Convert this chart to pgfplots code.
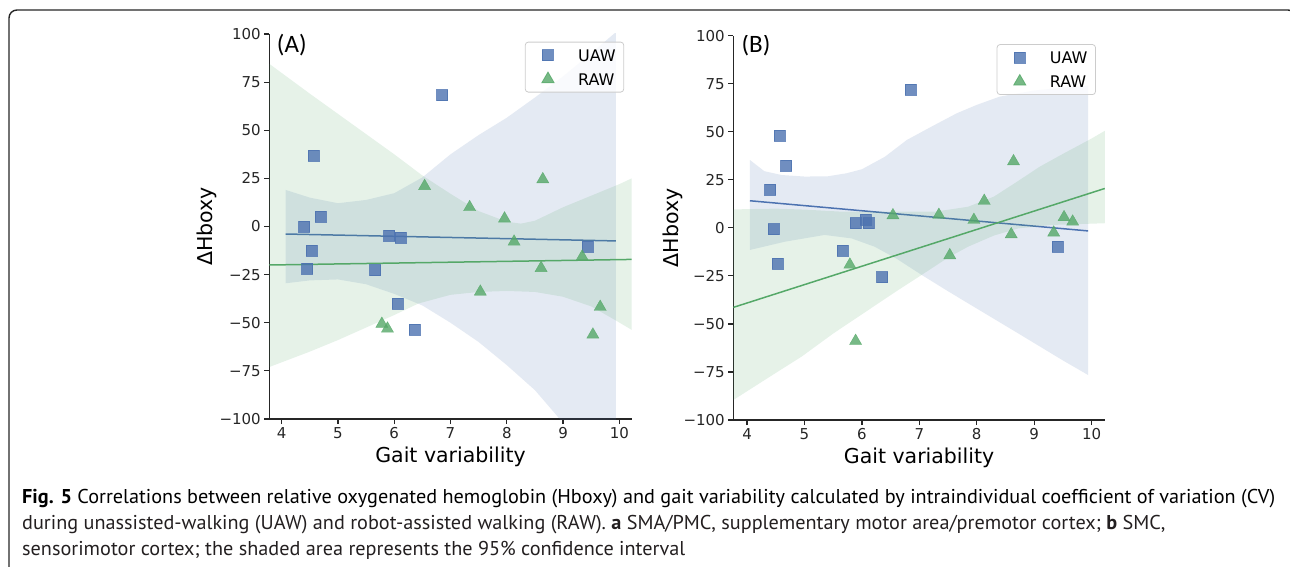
\documentclass[border=0pt]{standalone}
\usepackage{graphicx}
\usepackage{pgfplots}
\pgfplotsset{compat=1.18}
\usepackage{fontspec}
\setmainfont{DejaVu Sans}
\newfontfamily\capfont{PT Sans}
\newfontfamily\panelfont{Carlito}

\definecolor{uaw}{HTML}{4C72B0}
\definecolor{raw}{HTML}{55A868}
\definecolor{ink}{HTML}{262626}
\definecolor{capink}{HTML}{231F20}

\newsavebox\capbox
\newlength\caplen

\tikzset{panel/.style={font=\panelfont\fontsize{25}{29}\selectfont}}

\pgfplotsset{
  gaitax/.style={
    scale only axis, anchor=north west,
    ymin=-100, ymax=100,
    axis x line*=bottom, axis y line*=left,
    axis line style={ink, line width=1.2pt},
    tick align=outside, major tick length=5pt,
    every tick/.style={ink, line width=1.2pt},
    xtick={4,5,...,10},
    ytick={-100,-75,...,100},
    yticklabels={−100,−75,−50,−25,0,25,50,75,100},
    tick label style={font=\fontsize{15}{18}\selectfont, text=ink},
    /pgf/number format/assume math mode=true,
    label style={font=\fontsize{20.5}{24}\selectfont, text=black},
    xlabel={Gait variability},
    ylabel={ΔHboxy},
    legend style={anchor=north east, draw=black!20, line width=0.8pt,
      rounded corners=3pt, fill=white, fill opacity=0.8, text opacity=1,
      font=\fontsize{16}{19}\selectfont, inner xsep=5pt, inner ysep=1pt,
      nodes={inner xsep=3pt, inner ysep=6pt, text height=12pt, text depth=0pt}},
    legend cell align=left,
  },
  band/.style={draw=none, fill=#1, fill opacity=0.15, forget plot},
  fit/.style={#1, line width=1.5pt, forget plot},
  pts/.style={only marks, opacity=0.8,
    legend image code/.code={\path (0pt,0pt) (44pt,0pt);
      \draw[##1] plot coordinates {(17.3pt,0pt)};}},
}

\begin{document}
\sbox\capbox{\capfont\fontsize{20}{26}\selectfont\textbf{Fig. 5} Correlations between relative oxygenated hemoglobin (Hboxy) and gait variability calculated by intraindividual coefficient of variation (CV)}%
\setlength\caplen{\wd\capbox}%
\pgfmathsetmacro\capsx{1253/\caplen}%
\begin{tikzpicture}
\useasboundingbox (0,0) rectangle (1290pt,-567pt);
\draw[line width=1.4pt, black!85, rounded corners=8pt]
  (9pt,-580pt) -- (9pt,-10pt) -- (1296pt,-10pt) -- (1296pt,-580pt);

% (A) SMA/PMC
\begin{axis}[gaitax,
  at={(269.3pt,-34pt)}, width=362.4pt, height=385pt,
  xmin=3.78, xmax=10.22,
  xlabel style={at={(axis description cs:0.5,-0.099)}, anchor=center},
  ylabel style={at={(axis description cs:-0.172,0.5)}, anchor=center},
  legend style={at={(0.979,0.980)}},
]
\addplot[pts, mark=square*, mark size=5.5pt, uaw] coordinates {
  (4.40,0.0) (4.57,36.8) (4.69,5.1) (4.53,-12.6) (4.45,-21.9) (5.66,-22.6)
  (5.91,-4.8) (6.11,-5.6) (6.06,-40.1) (6.36,-53.4) (6.85,68.3) (9.43,-10.5)};
\addlegendentry{UAW}
\addplot[fit=uaw] coordinates {(4.07,-3.9) (9.94,-7.5)};
\addplot[band=uaw] coordinates {
  (4.07,19.0) (4.5,15.0) (5.0,12.1) (5.5,13.8) (6.0,17.3) (6.5,25.5)
  (7.0,37.5) (7.5,47.5) (8.0,56.5) (8.5,67) (9.0,78) (9.5,90) (9.94,101)
  (9.94,-125) (9.5,-113) (9.0,-102) (8.5,-85) (8.0,-72) (7.5,-60) (7.0,-50)
  (6.5,-41) (6.0,-35) (5.5,-30) (5.0,-27.5) (4.5,-28) (4.07,-29.5)} -- cycle;
\addplot[pts, mark=triangle*, mark size=7pt, raw] coordinates {
  (6.54,21.0) (7.34,10.0) (7.96,4.1) (8.13,-7.9) (8.64,24.5) (7.53,-33.9)
  (8.61,-21.6) (9.34,-15.7) (9.66,-41.8) (9.53,-56.2) (5.78,-50.6) (5.88,-53.1)};
\addlegendentry{RAW}
\addplot[fit=raw] coordinates {(3.78,-20.0) (10.22,-17.1)};
\addplot[band=raw] coordinates {
  (3.78,84.5) (4.5,69) (5.0,58.5) (5.5,48) (6.0,37.5) (6.5,26.5) (7.0,17)
  (7.5,8) (8.0,2.5) (8.25,1.5) (8.5,3) (9.0,10) (9.5,16) (10.0,22) (10.22,25)
  (10.22,-53.7) (9.92,-48.5) (9.5,-41.5) (9.0,-36.5) (8.5,-34) (8.0,-33.5)
  (7.5,-34) (7.0,-35.5) (6.43,-40) (6.0,-46) (5.5,-52.5) (5.0,-59) (4.5,-65)
  (3.78,-73)} -- cycle;
\node[panel] at (rel axis cs:0.062,0.971) {(A)};
\end{axis}

% (B) SMC
\begin{axis}[gaitax,
  at={(733.3pt,-35.7pt)}, width=371.5pt, height=384.3pt,
  xmin=3.76, xmax=10.23,
  xlabel style={at={(axis description cs:0.5,-0.099)}, anchor=center},
  ylabel style={at={(axis description cs:-0.162,0.5)}, anchor=center},
  legend style={at={(0.976,0.978)}},
]
\addplot[pts, mark=square*, mark size=5.5pt, uaw] coordinates {
  (4.40,19.9) (4.46,-0.6) (4.57,48.0) (4.68,32.4) (4.53,-18.6) (5.66,-11.9)
  (5.89,2.5) (6.07,4.4) (6.12,2.5) (6.35,-25.6) (6.85,72.1) (9.41,-9.6)};
\addlegendentry{UAW}
\addplot[fit=uaw] coordinates {(4.05,14.1) (9.94,-1.6)};
\addplot[band=uaw] coordinates {
  (4.05,35.3) (4.3,29.5) (4.6,27.5) (5.0,26.7) (5.4,26.8) (5.73,28.4)
  (6.0,30.5) (6.4,37) (6.78,45.7) (7.2,52.5) (7.65,59.6) (8.0,64) (8.4,68.3)
  (9.0,71.5) (9.5,73) (9.94,74)
  (9.94,-76.6) (9.5,-69) (8.72,-54.9) (8.0,-42) (7.5,-33) (7.04,-24.5)
  (6.6,-16) (6.22,-9.8) (5.82,-5.5) (5.35,-3.7) (4.66,-7.2) (4.05,-11.5)} -- cycle;
\addplot[pts, mark=triangle*, mark size=7pt, raw] coordinates {
  (5.79,-19.2) (5.89,-58.9) (6.54,6.5) (7.34,6.7) (7.53,-14.3) (7.95,4.1)
  (8.13,14.0) (8.60,-3.4) (8.64,34.6) (9.34,-2.5) (9.52,5.5) (9.67,3.2)};
\addlegendentry{RAW}
\addplot[fit=raw] coordinates {(3.76,-41.4) (10.23,20.5)};
\addplot[band=raw] coordinates {
  (3.76,9.6) (4.5,10) (5.0,9.5) (5.6,8.5) (6.2,8.4) (6.8,8.4) (7.27,8.4)
  (7.85,11) (8.3,16.3) (8.7,24) (9.1,31.9) (9.5,38.5) (10.0,46.5) (10.23,50.5)
  (10.23,2.4) (9.3,1.5) (8.72,-0.3) (8.3,-4) (7.85,-9.8) (7.5,-15.5)
  (7.04,-24.5) (6.6,-33) (6.11,-42.8) (5.5,-55) (4.95,-67) (4.5,-75.5)
  (3.76,-89.6)} -- cycle;
\node[panel] at (rel axis cs:0.061,0.976) {(B)};
\end{axis}

% caption
\begin{scope}[every node/.style={anchor=base west, inner sep=0pt, text=capink,
    font=\capfont\fontsize{20}{26}\selectfont}]
\node at (22pt,-503pt) {\scalebox{\capsx}[1]{\usebox\capbox}};
\node at (22pt,-529pt) {\scalebox{\capsx}[1]{during unassisted-walking (UAW) and robot-assisted walking (RAW). \textbf{a} SMA/PMC, supplementary motor area/premotor cortex; \textbf{b} SMC,}};
\node at (22pt,-555pt) {\scalebox{\capsx}[1]{sensorimotor cortex; the shaded area represents the 95\% confidence interval}};
\end{scope}
\end{tikzpicture}
\end{document}
